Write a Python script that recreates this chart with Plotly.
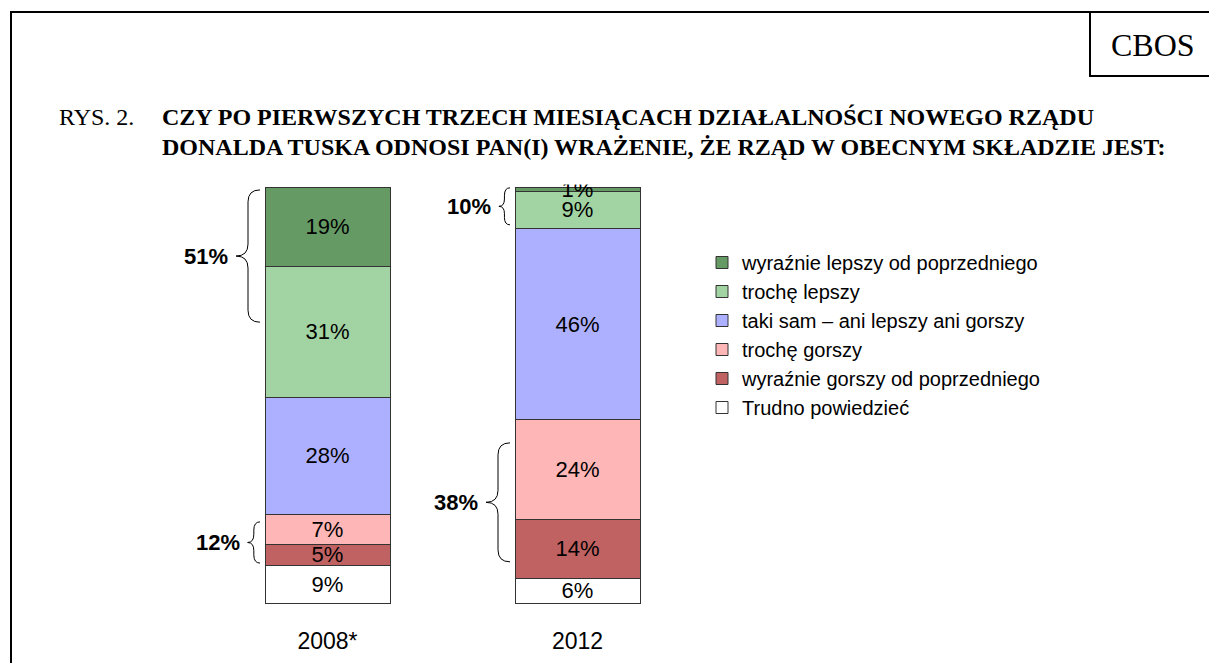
import plotly.graph_objects as go

# ---- data ----
years = ["2008*", "2012"]
categories = [
    "Trudno powiedzieć",
    "wyraźnie gorszy od poprzedniego",
    "trochę gorszy",
    "taki sam – ani lepszy ani gorszy",
    "trochę lepszy",
    "wyraźnie lepszy od poprzedniego",
]
values_2008 = [9, 5, 7, 28, 31, 19]
values_2012 = [6, 14, 24, 46, 9, 1]
colors = ["#FFFFFF", "#C06262", "#FFB6B6", "#ADB0FF", "#A2D3A2", "#659A65"]

# braces (bar index, top/bottom in percent-of-bar units, label)
brace_bar = [0, 0, 1, 1]
brace_top = [99.3, 19.5, 99.8, 38.5]
brace_bottom = [67.5, 9.6, 90.9, 9.9]
brace_labels = ["51%", "12%", "10%", "38%"]

W, H = 1209, 663
SANS = "Liberation Sans, Arial, sans-serif"
SERIF = "Liberation Serif, Times New Roman, serif"


def px(x):
    return x / W


def py(y):
    return 1 - y / H


fig = go.Figure()
xs = [0, 1]
for i, cat in enumerate(categories):
    vals = [values_2008[i], values_2012[i]]
    fig.add_trace(go.Bar(
        x=xs, y=vals, name=cat,
        marker=dict(color=colors[i], line=dict(color="#333333", width=1)),
        width=0.5,
        text=[f"{v}%" for v in vals],
        texttemplate="%{text}",
        textposition="inside",
        insidetextanchor="middle",
        textangle=0,
        textfont=dict(family=SANS, size=22, color="black"),
        hoverinfo="skip",
    ))

# plot-area geometry (pixels)
y0_px, y100_px = 603, 187
x_left_px, x_right_px = 202.5, 702.5  # x range [-0.5, 1.5]
unit_px_x = (x_right_px - x_left_px) / 2.0
unit_px_y = (y0_px - y100_px) / 100.0
pad = 0.6  # y padding (data units) so bar outlines are not clipped

shapes = []
annotations = []

# outer frame
shapes.append(dict(type="rect", xref="paper", yref="paper",
                   x0=px(11), x1=px(1230), y0=py(12), y1=py(700),
                   line=dict(color="black", width=2), fillcolor="rgba(0,0,0,0)"))
# CBOS box
shapes.append(dict(type="rect", xref="paper", yref="paper",
                   x0=px(1090), x1=px(1230), y0=py(12), y1=py(76),
                   line=dict(color="black", width=2), fillcolor="rgba(0,0,0,0)"))
annotations.append(dict(xref="paper", yref="paper", x=px(1153), y=py(45),
                        text="CBOS", showarrow=False, xanchor="center", yanchor="middle",
                        font=dict(family=SERIF, size=32, color="black")))
annotations.append(dict(xref="paper", yref="paper", x=px(57), y=py(117),
                        text="RYS. 2.", showarrow=False, xanchor="left", yanchor="middle",
                        font=dict(family=SERIF, size=24, color="black")))
annotations.append(dict(xref="paper", yref="paper", x=px(160), y=py(117),
                        text="<b>CZY PO PIERWSZYCH TRZECH MIESIĄCACH DZIAŁALNOŚCI NOWEGO RZĄDU</b>",
                        showarrow=False, xanchor="left", yanchor="middle",
                        font=dict(family=SERIF, size=24, color="black")))
annotations.append(dict(xref="paper", yref="paper", x=px(160), y=py(147),
                        text="<b>DONALDA TUSKA ODNOSI PAN(I) WRAŻENIE, ŻE RZĄD W OBECNYM SKŁADZIE JEST:</b>",
                        showarrow=False, xanchor="left", yanchor="middle",
                        font=dict(family=SERIF, size=24, color="black")))

# braces
for b, top, bot, lab in zip(brace_bar, brace_top, brace_bottom, brace_labels):
    h_px = (top - bot) * unit_px_y
    w_px = min(24, 0.3 * h_px)
    xr = b - 0.25 - 5 / unit_px_x
    xl = xr - w_px / unit_px_x
    xm = (xr + xl) / 2
    d = min(12, h_px / 5) / unit_px_y
    ym = (top + bot) / 2
    path = (f"M {xr},{top} Q {xm},{top} {xm},{top - d} L {xm},{ym + d} "
            f"Q {xm},{ym} {xl},{ym} Q {xm},{ym} {xm},{ym - d} "
            f"L {xm},{bot + d} Q {xm},{bot} {xr},{bot}")
    shapes.append(dict(type="path", xref="x", yref="y", path=path,
                       line=dict(color="black", width=1)))
    annotations.append(dict(xref="x", yref="y", x=xl - 6 / unit_px_x, y=ym,
                            text=f"<b>{lab}</b>", showarrow=False,
                            xanchor="right", yanchor="middle",
                            font=dict(family=SANS, size=22, color="black")))

fig.update_layout(
    width=W, height=H,
    margin=dict(l=0, r=0, t=0, b=0),
    paper_bgcolor="white", plot_bgcolor="white",
    barmode="stack", barnorm="percent",
    showlegend=True,
    legend=dict(x=px(702), y=py(243), xanchor="left", yanchor="top",
                traceorder="reversed", font=dict(family=SANS, size=20, color="black"),
                bgcolor="rgba(0,0,0,0)"),
    uniformtext=dict(minsize=22, mode="show"),
    xaxis=dict(domain=[px(x_left_px), px(x_right_px)], range=[-0.5, 1.5],
               tickvals=xs, ticktext=years, showgrid=False, zeroline=False,
               showline=False, ticks="", ticklabelstandoff=20,
               tickfont=dict(family=SANS, size=23, color="black")),
    yaxis=dict(domain=[py(y0_px + pad * unit_px_y), py(y100_px - pad * unit_px_y)],
               range=[-pad, 100 + pad],
               showgrid=False, zeroline=False, showline=False,
               showticklabels=False, ticks=""),
    shapes=shapes, annotations=annotations,
)

fig.write_html("out.html", config={"displayModeBar": False},
               post_script="document.body.style.margin='0';document.body.style.overflow='hidden';")
